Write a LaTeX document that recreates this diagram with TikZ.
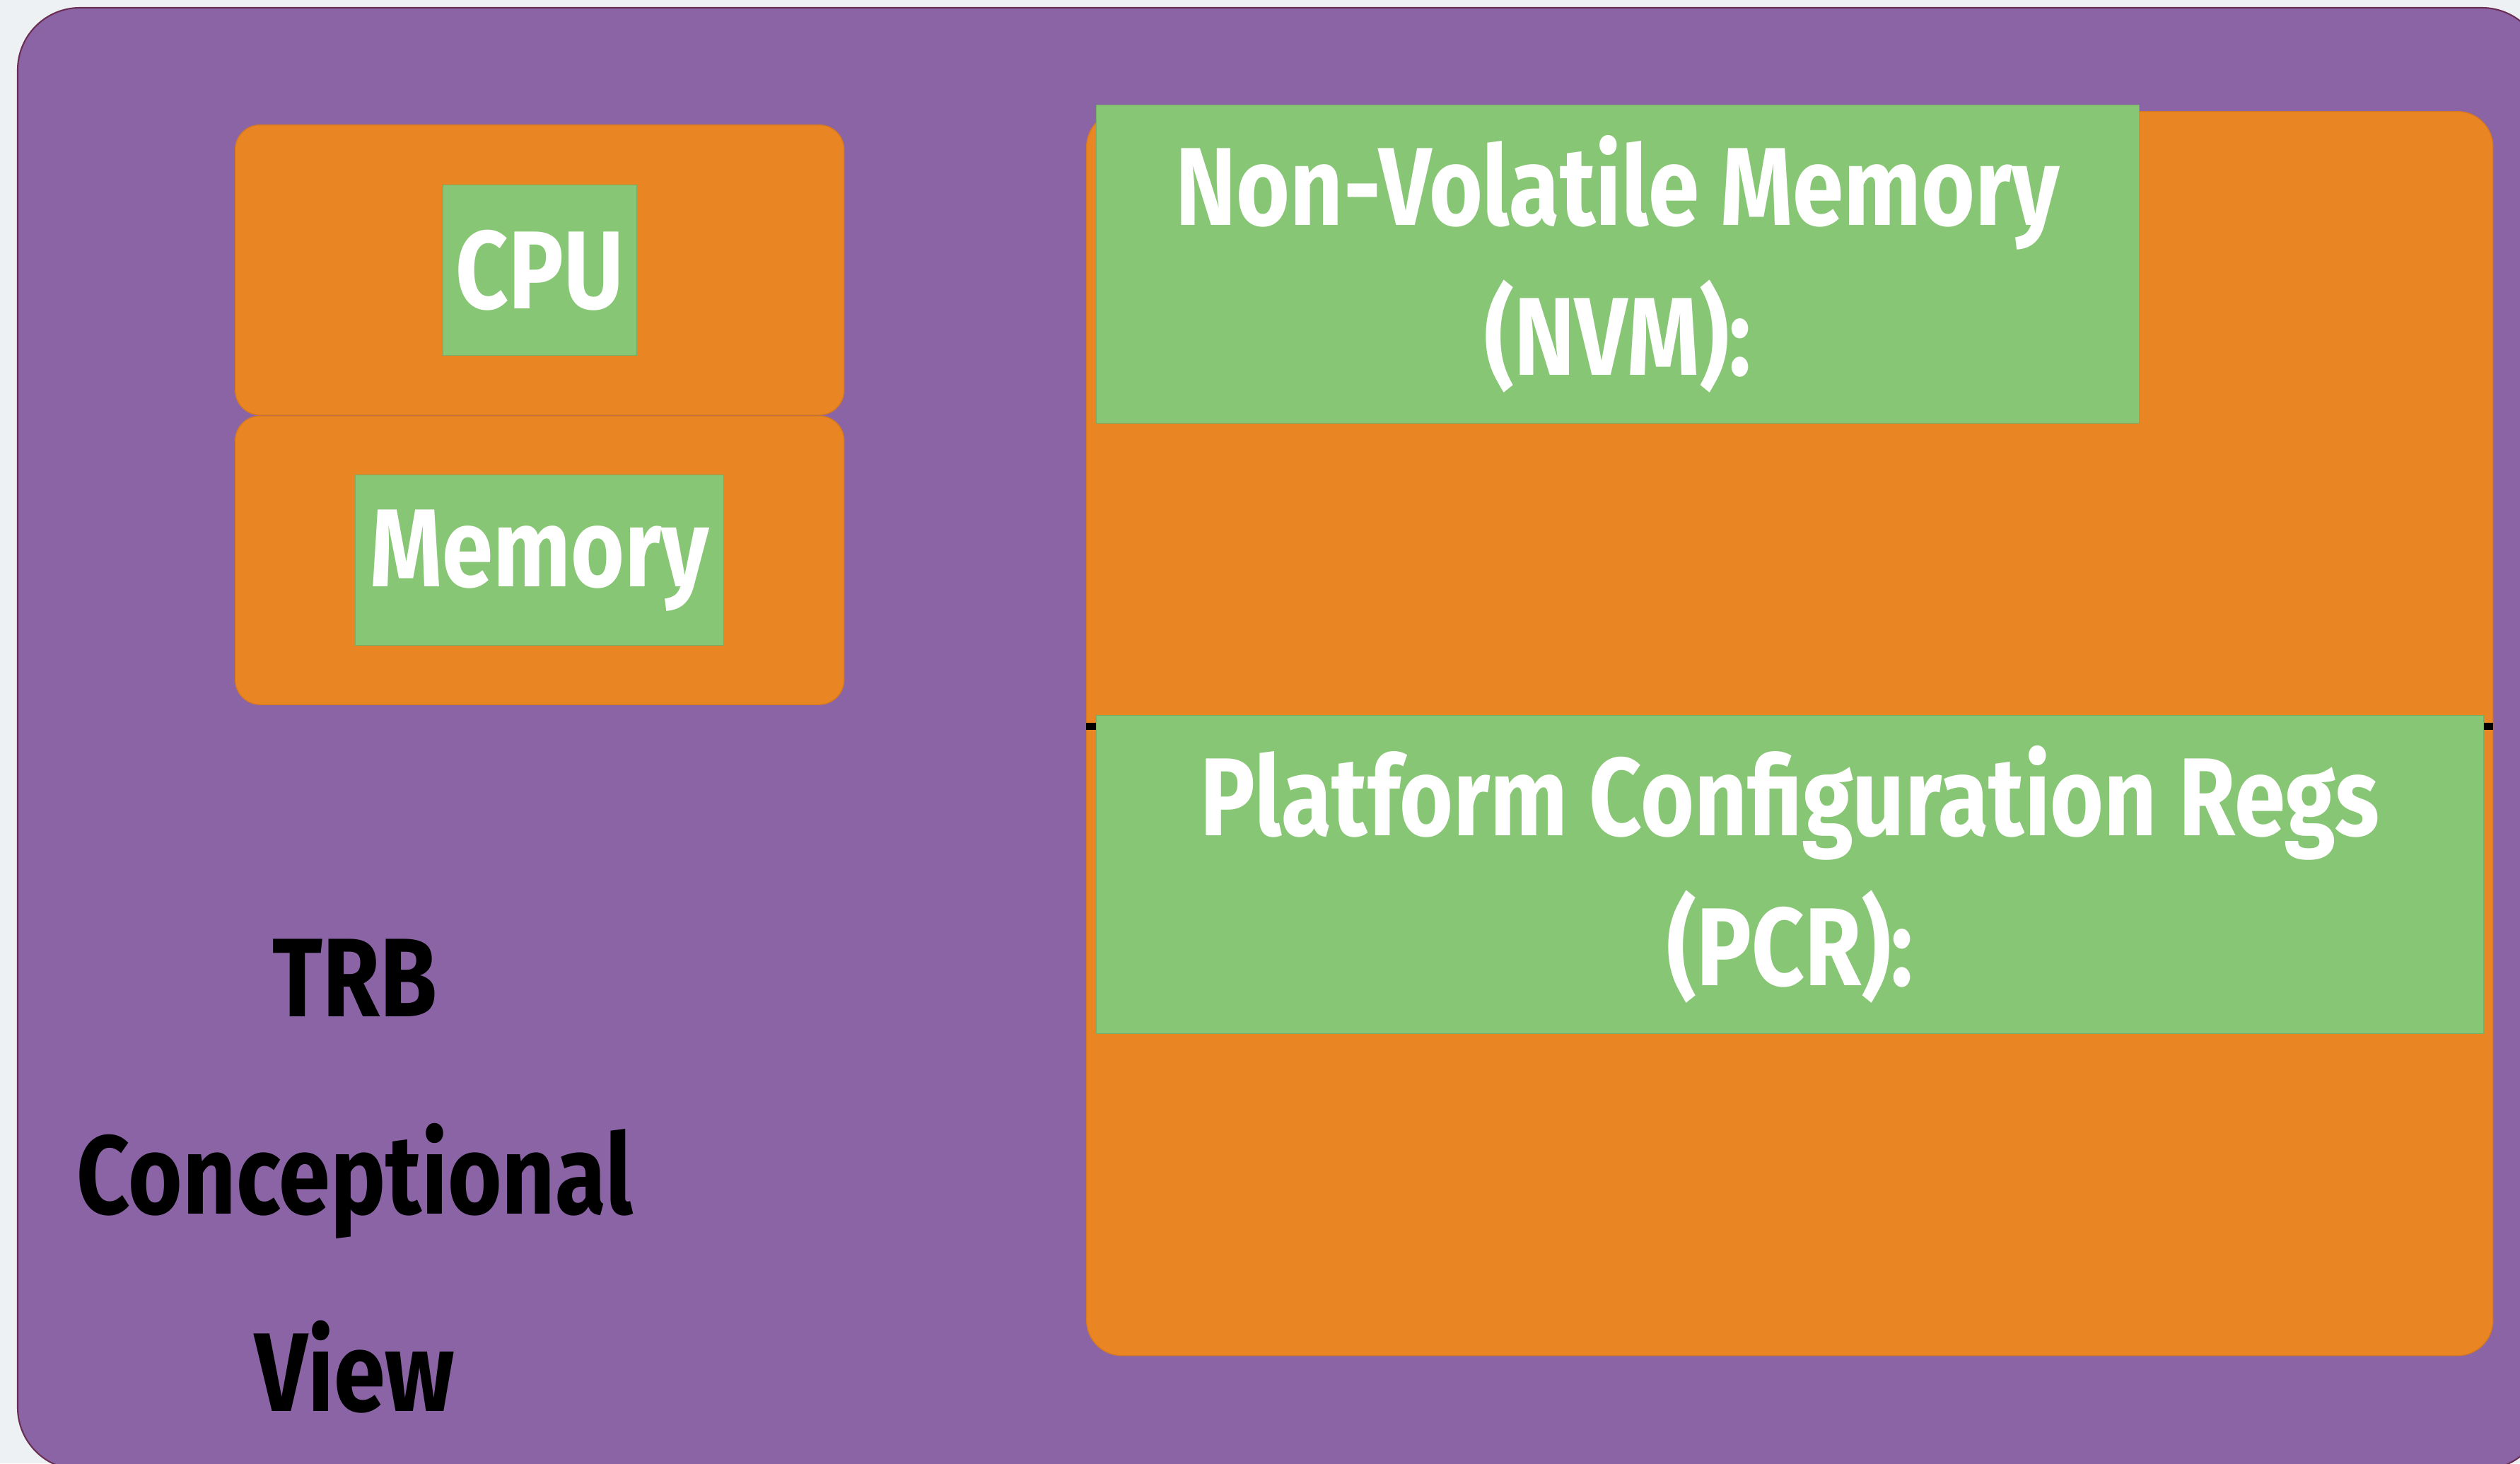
\documentclass[tikz,border=0pt]{standalone}
\usepackage{fontspec}
\newfontfamily\slidefont{Fira Sans}[FakeStretch=0.83]
\usetikzlibrary{positioning}
\definecolor{trbpurple}{HTML}{8A64A4}
\definecolor{trbedge}{HTML}{6B2F55}
\definecolor{trborange}{HTML}{EA8523}
\definecolor{trbgreen}{HTML}{87C674}
\definecolor{paper}{HTML}{EEF1F4}

\begin{document}
\begin{tikzpicture}[
tile/.style={fill=trborange,draw=trborange!92!black,line width=0.4pt,
    rounded corners=0.35cm,inner sep=0pt},
plate/.style={fill=trbgreen,draw=trbgreen!88!black,line width=0.3pt,
    inner sep=0pt,text=white,align=center},
big/.style={font=\slidefont\bfseries\fontsize{44.6}{60.3}\selectfont}]
\useasboundingbox[fill=paper] (0,0) rectangle (35.64,-20.69);
\fill[trbpurple,draw=trbedge,line width=0.6pt,rounded corners=0.88cm]
    (0.25,-0.11) rectangle (35.98,-20.78);
% left column
\node (cputile) [tile,anchor=north west,minimum width=8.61cm,minimum height=4.10cm]
    at (3.32,-1.76) {};
\node (memtile) [tile,below=0pt of cputile,minimum width=8.61cm,minimum height=4.08cm] {};
\node (cpu) [plate,big,minimum width=2.74cm,minimum height=2.41cm] at (cputile) {CPU};
\node (mem) [plate,big,minimum width=5.21cm,minimum height=2.41cm] at (memtile) {Memory};
\node (title) [align=center,text=black,
    font=\slidefont\bfseries\fontsize{45}{79.4}\selectfont]
    at (5.02,-16.63) {TRB\\Conceptional\\View};
% right column
\node (store) [tile,rounded corners=0.5cm,anchor=north west,
    minimum width=19.89cm,minimum height=17.59cm] at (15.36,-1.57) {};
\draw[line width=0.1cm] (store.west |- 0,-10.27) -- (store.east |- 0,-10.27);
\node (nvm) [plate,big,anchor=north west,minimum width=14.75cm,minimum height=4.50cm]
    at (15.50,-1.48) {Non-Volatile Memory\\(NVM):};
\node (pcr) [plate,big,anchor=north west,minimum width=19.62cm,minimum height=4.50cm]
    at (15.50,-10.11) {Platform Configuration Regs\\(PCR):};
\end{tikzpicture}
\end{document}
